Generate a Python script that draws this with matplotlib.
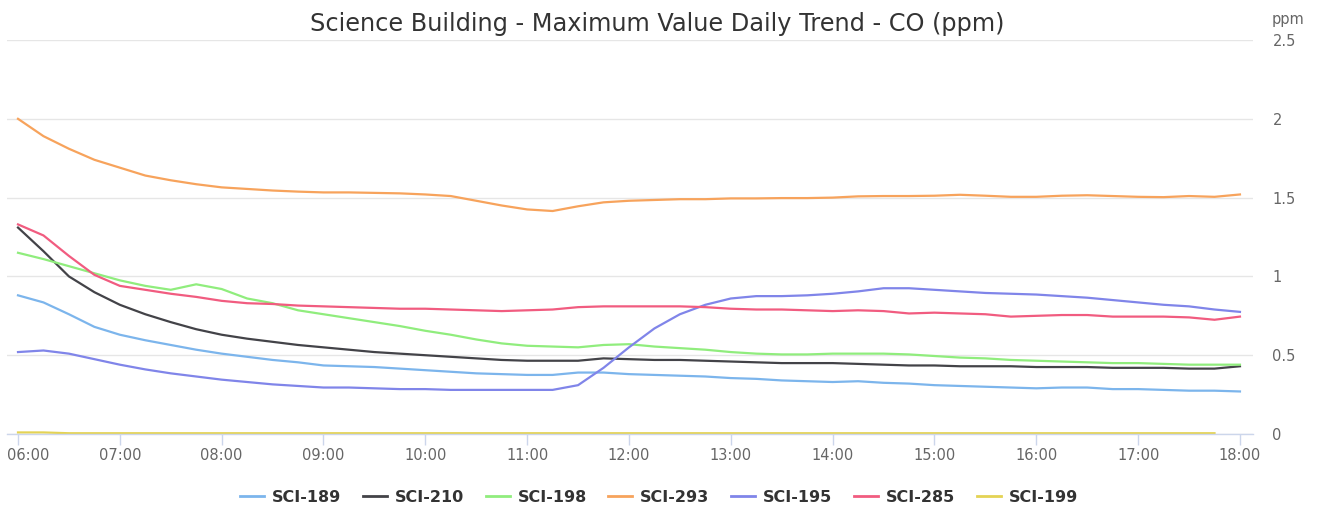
import numpy as np
import matplotlib.pyplot as plt
import matplotlib.transforms as mtransforms

# 15-minute samples from 06:00 to 18:00
times = np.arange(6, 18.01, 0.25)
hour_ticks = np.arange(6, 19, 1)
hour_labels = [f"{h:02d}:00" for h in hour_ticks]

sci_189 = [0.88, 0.835, 0.76, 0.68, 0.63, 0.595, 0.565, 0.535, 0.51, 0.49, 0.47, 0.455,
           0.435, 0.43, 0.425, 0.415, 0.405, 0.395, 0.385, 0.38, 0.375, 0.375, 0.39, 0.39,
           0.38, 0.375, 0.37, 0.365, 0.355, 0.35, 0.34, 0.335, 0.33, 0.335, 0.325, 0.32,
           0.31, 0.305, 0.30, 0.295, 0.29, 0.295, 0.295, 0.285, 0.285, 0.28, 0.275, 0.275, 0.27]
sci_210 = [1.31, 1.16, 1.00, 0.90, 0.82, 0.76, 0.71, 0.665, 0.63, 0.605, 0.585, 0.565,
           0.55, 0.535, 0.52, 0.51, 0.50, 0.49, 0.48, 0.47, 0.465, 0.465, 0.465, 0.48,
           0.475, 0.47, 0.47, 0.465, 0.46, 0.455, 0.45, 0.45, 0.45, 0.445, 0.44, 0.435,
           0.435, 0.43, 0.43, 0.43, 0.425, 0.425, 0.425, 0.42, 0.42, 0.42, 0.415, 0.415, 0.43]
sci_198 = [1.15, 1.11, 1.065, 1.02, 0.975, 0.94, 0.915, 0.95, 0.92, 0.86, 0.83, 0.785,
           0.76, 0.735, 0.71, 0.685, 0.655, 0.63, 0.60, 0.575, 0.56, 0.555, 0.55, 0.565,
           0.57, 0.555, 0.545, 0.535, 0.52, 0.51, 0.505, 0.505, 0.51, 0.51, 0.51, 0.505,
           0.495, 0.485, 0.48, 0.47, 0.465, 0.46, 0.455, 0.45, 0.45, 0.445, 0.44, 0.44, 0.44]
sci_293 = [2.00, 1.89, 1.81, 1.74, 1.69, 1.64, 1.61, 1.585, 1.565, 1.555, 1.545, 1.538,
           1.533, 1.533, 1.53, 1.527, 1.52, 1.51, 1.48, 1.45, 1.425, 1.415, 1.445, 1.47,
           1.48, 1.485, 1.49, 1.49, 1.495, 1.495, 1.497, 1.497, 1.50, 1.508, 1.51, 1.51,
           1.512, 1.518, 1.512, 1.505, 1.505, 1.512, 1.515, 1.51, 1.505, 1.503, 1.51, 1.505, 1.52]
sci_195 = [0.52, 0.53, 0.51, 0.475, 0.44, 0.41, 0.385, 0.365, 0.345, 0.33, 0.315, 0.305,
           0.295, 0.295, 0.29, 0.285, 0.285, 0.28, 0.28, 0.28, 0.28, 0.28, 0.31, 0.42,
           0.55, 0.67, 0.76, 0.82, 0.86, 0.875, 0.875, 0.88, 0.89, 0.905, 0.925, 0.925,
           0.915, 0.905, 0.895, 0.89, 0.885, 0.875, 0.865, 0.85, 0.835, 0.82, 0.81, 0.79, 0.775]
sci_285 = [1.33, 1.26, 1.13, 1.01, 0.94, 0.915, 0.89, 0.87, 0.845, 0.83, 0.825, 0.815,
           0.81, 0.805, 0.80, 0.795, 0.795, 0.79, 0.785, 0.78, 0.785, 0.79, 0.805, 0.81,
           0.81, 0.81, 0.81, 0.805, 0.795, 0.79, 0.79, 0.785, 0.78, 0.785, 0.78, 0.765,
           0.77, 0.765, 0.76, 0.745, 0.75, 0.755, 0.755, 0.745, 0.745, 0.745, 0.74, 0.725, 0.745]
# last sample (18:00) missing for SCI-199
sci_199 = [0.01, 0.01] + [0.005] * 46 + [np.nan]

series = [
    ("SCI-189", sci_189, "#7cb5ec"),
    ("SCI-210", sci_210, "#434348"),
    ("SCI-198", sci_198, "#90ed7d"),
    ("SCI-293", sci_293, "#f7a35c"),
    ("SCI-195", sci_195, "#8085e9"),
    ("SCI-285", sci_285, "#f15c80"),
    ("SCI-199", sci_199, "#e4d354"),
]

fig = plt.figure(figsize=(13.22, 5.09), dpi=100)
ax = fig.add_axes([0.0053, 0.1473, 0.9425, 0.7741])

for name, vals, color in series:
    ax.plot(times, vals, color=color, lw=1.6, label=name, solid_joinstyle="round")

ax.set_xlim(6 - 0.108, 18 + 0.128)
ax.set_ylim(0, 2.5)

# y axis on the right, no tick marks
ax.yaxis.tick_right()
ax.set_yticks([0, 0.5, 1, 1.5, 2, 2.5])
ax.set_yticklabels(["0", "0.5", "1", "1.5", "2", "2.5"])
ax.tick_params(axis="y", length=0, pad=14, labelsize=10.5, labelcolor="#666666")
ax.grid(axis="y", color="#e6e6e6", lw=1)
ax.set_axisbelow(True)

ax.set_xticks(hour_ticks)
ax.set_xticklabels(hour_labels)
ax.tick_params(axis="x", length=8, width=1, color="#ccd6eb", pad=2,
               labelsize=10.5, labelcolor="#666666")
# keep the first label inside the figure, like the original
first = ax.get_xticklabels()[0]
first.set_transform(first.get_transform() +
                    mtransforms.ScaledTranslation(10 / 100, 0, fig.dpi_scale_trans))

for side in ["top", "right", "left"]:
    ax.spines[side].set_visible(False)
ax.spines["bottom"].set_color("#ccd6eb")
ax.spines["bottom"].set_linewidth(1)

fig.text(0.962, 0.962, "ppm", ha="left", va="center", fontsize=10.5, color="#666666")
fig.text(0.497, 0.953, "Science Building - Maximum Value Daily Trend - CO (ppm)",
         ha="center", va="center", fontsize=17.3, color="#333333")

leg = fig.legend(loc="center", bbox_to_anchor=(0.4985, 0.023), ncol=7, frameon=False,
                 handlelength=1.5, handletextpad=0.5, columnspacing=1.35,
                 prop={"weight": "bold", "size": 11.5})
for t in leg.get_texts():
    t.set_color("#333333")
for h in leg.get_lines():
    h.set_linewidth(2)

fig.savefig("out.png", dpi=100)
